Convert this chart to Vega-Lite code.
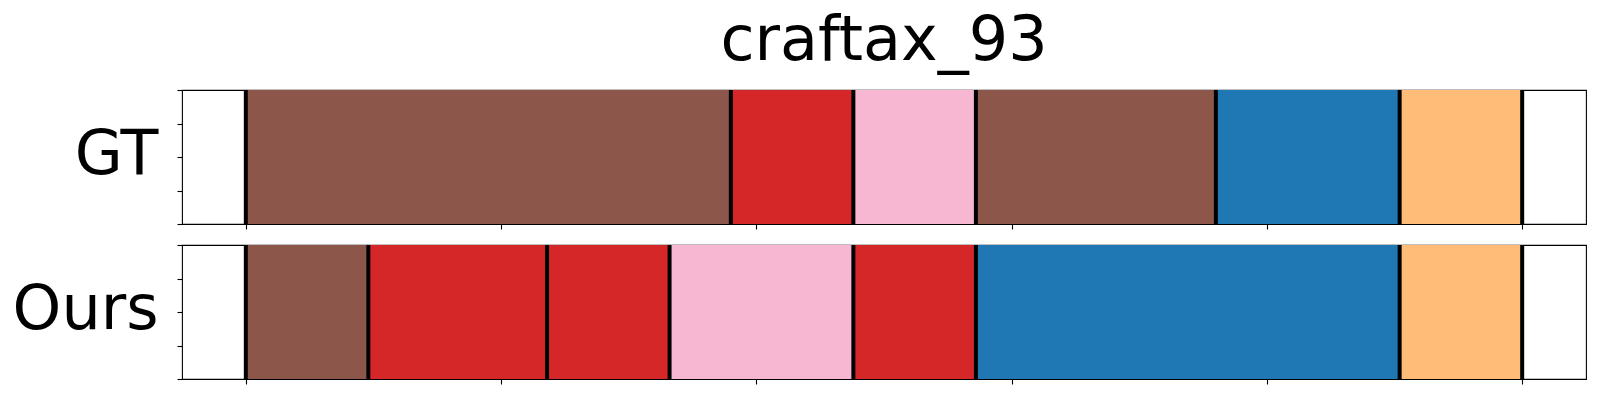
{
  "$schema": "https://vega.github.io/schema/vega-lite/v6.json",
  "padding": {"left": 11, "top": 10, "right": 10, "bottom": 10},
  "background": "white",
  "title": {"text": "craftax_93", "fontSize": 62, "font": "DejaVu Sans", "fontWeight": "normal", "color": "black", "anchor": "middle", "frame": "group", "baseline": "alphabetic", "offset": -35},
  "config": {
    "view": {"stroke": "black", "strokeWidth": 1.1},
    "axis": {"tickColor": "black", "tickSize": 5, "tickWidth": 1.1, "domain": false, "labels": false, "grid": false}
  },
  "datasets": {
    "segments": [
      {"row": "GT", "start": 0, "end": 95, "action": "A"},
      {"row": "GT", "start": 95, "end": 119, "action": "B"},
      {"row": "GT", "start": 119, "end": 143, "action": "C"},
      {"row": "GT", "start": 143, "end": 190, "action": "A"},
      {"row": "GT", "start": 190, "end": 226, "action": "D"},
      {"row": "GT", "start": 226, "end": 250, "action": "E"},
      {"row": "Ours", "start": 0, "end": 24, "action": "A"},
      {"row": "Ours", "start": 24, "end": 59, "action": "B"},
      {"row": "Ours", "start": 59, "end": 83, "action": "B"},
      {"row": "Ours", "start": 83, "end": 119, "action": "C"},
      {"row": "Ours", "start": 119, "end": 143, "action": "B"},
      {"row": "Ours", "start": 143, "end": 226, "action": "D"},
      {"row": "Ours", "start": 226, "end": 250, "action": "E"}
    ],
    "bounds": [
      {"row": "GT", "frame": 0}, {"row": "GT", "frame": 95}, {"row": "GT", "frame": 119}, {"row": "GT", "frame": 143},
      {"row": "GT", "frame": 190}, {"row": "GT", "frame": 226}, {"row": "GT", "frame": 250},
      {"row": "Ours", "frame": 0}, {"row": "Ours", "frame": 24}, {"row": "Ours", "frame": 59}, {"row": "Ours", "frame": 83},
      {"row": "Ours", "frame": 119}, {"row": "Ours", "frame": 143}, {"row": "Ours", "frame": 226}, {"row": "Ours", "frame": 250}
    ]
  },
  "spacing": 11,
  "vconcat": [
    {
      "width": 1404, "height": 134,
      "layer": [
        {
          "data": {"name": "segments"},
          "transform": [{"filter": "datum.row === 'GT'"}],
          "mark": {"type": "rect"},
          "encoding": {
            "x": {"field": "start", "type": "quantitative", "scale": {"domain": [-12.5, 262.5], "nice": false, "zero": false}, "axis": {"values": [0, 50, 100, 150, 200, 250], "title": null}},
            "x2": {"field": "end"},
            "y": {"datum": 0, "type": "quantitative", "scale": {"domain": [0, 1], "nice": false}, "axis": {"values": [0, 0.25, 0.5, 0.75, 1], "title": "GT", "titleAngle": 0, "titleFont": "DejaVu Sans", "titleFontSize": 62, "titleFontWeight": "normal", "titleColor": "black", "titleAlign": "right", "titleBaseline": "middle", "titleX": -24, "titleY": 64}},
            "y2": {"datum": 1},
            "color": {"field": "action", "type": "nominal", "scale": {"domain": ["A", "B", "C", "D", "E"], "range": ["#8c564b", "#d62728", "#f7b6d2", "#1f77b4", "#ffbb78"]}, "legend": null}
          }
        },
        {
          "data": {"name": "bounds"},
          "transform": [{"filter": "datum.row === 'GT'"}],
          "mark": {"type": "rule", "strokeWidth": 4, "color": "black"},
          "encoding": {"x": {"field": "frame", "type": "quantitative"}}
        }
      ]
    },
    {
      "width": 1404, "height": 134,
      "layer": [
        {
          "data": {"name": "segments"},
          "transform": [{"filter": "datum.row === 'Ours'"}],
          "mark": {"type": "rect"},
          "encoding": {
            "x": {"field": "start", "type": "quantitative", "scale": {"domain": [-12.5, 262.5], "nice": false, "zero": false}, "axis": {"values": [0, 50, 100, 150, 200, 250], "title": null}},
            "x2": {"field": "end"},
            "y": {"datum": 0, "type": "quantitative", "scale": {"domain": [0, 1], "nice": false}, "axis": {"values": [0, 0.25, 0.5, 0.75, 1], "title": "Ours", "titleAngle": 0, "titleFont": "DejaVu Sans", "titleFontSize": 62, "titleFontWeight": "normal", "titleColor": "black", "titleAlign": "right", "titleBaseline": "middle", "titleX": -24, "titleY": 64}},
            "y2": {"datum": 1},
            "color": {"field": "action", "type": "nominal", "scale": {"domain": ["A", "B", "C", "D", "E"], "range": ["#8c564b", "#d62728", "#f7b6d2", "#1f77b4", "#ffbb78"]}, "legend": null}
          }
        },
        {
          "data": {"name": "bounds"},
          "transform": [{"filter": "datum.row === 'Ours'"}],
          "mark": {"type": "rule", "strokeWidth": 4, "color": "black"},
          "encoding": {"x": {"field": "frame", "type": "quantitative"}}
        }
      ]
    }
  ]
}
